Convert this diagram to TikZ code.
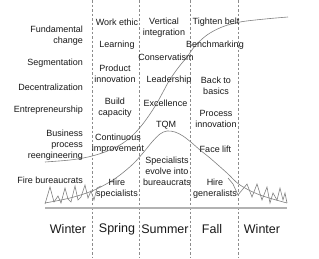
\documentclass[tikz,border=0pt]{standalone}
\usepackage{fontspec}
\setmainfont{Liberation Sans}
\begin{document}
\begin{tikzpicture}[x=1pt,y=-1pt,
  lbl/.style={font=\fontsize{9}{11}\selectfont, inner sep=0pt, align=center, text=black!90},
  lft/.style={lbl, anchor=east, align=right},
  season/.style={font=\fontsize{12.5}{14}\selectfont, inner sep=0pt, text=black!90},
  divider/.style={draw=black!45, line width=0.5pt, dash pattern=on 2.5pt off 2pt},
  curve/.style={draw=black!50, line width=0.6pt},
  base/.style={draw=black!30, line width=1.3pt}]
\useasboundingbox (0,0) rectangle (319,258);
\fill[white] (0,0) rectangle (319,258);
% dividers
\foreach \xx/\nm in {92/d1,139.5/d2,190.5/d3,238.5/d4}{
  \coordinate (\nm t) at (\xx,0);
  \coordinate (\nm b) at (\xx,258);
  \draw[divider] (\nm t) -- (\nm b);
}
% baseline
\coordinate (bl) at (45,208);
\coordinate (br) at (287,208);
\draw[base] (bl) -- (br);
% S-curve
\draw[curve] plot[smooth, tension=0.55] coordinates {(45,162) (70,160) (88,157) (105,152) (120,145) (132,136) (142,125) (150,114) (157,103) (163,92) (169,81) (178,68) (187,57) (195,46) (207,35) (222,27) (240,22) (265,19) (288,17)};
% bell curve
\draw[curve] plot[smooth, tension=0.55] coordinates {(45,203) (70,198) (92,191) (108,183) (120,175) (133,164) (143,153) (152,142) (160,134) (167,131) (175,132) (183,136) (192,143) (200,150) (210,158) (227,173) (240,185) (260,195) (287,203)};
% zigzags
\draw[curve, line join=miter] (45,204) -- (50,187) -- (54,202) -- (58,196) -- (61,203) -- (65,188) -- (68,199) -- (71,202) -- (75,186) -- (78,200) -- (81,197) -- (85,185) -- (88,198) -- (91,191) -- (94,200) -- (97,188) -- (101,186);
\draw[curve, line join=miter] (228,178) -- (233,184) -- (238,195) -- (247,184) -- (252,197) -- (257,184) -- (262,200) -- (267,187) -- (270,203) -- (273,193) -- (277,200) -- (280,188) -- (283,200) -- (285,193) -- (287,203);
% left column
\node[lft] (fund) at (83,35.5) {Fundamental\\change};
\node[lft] (seg) at (83,63) {Segmentation};
\node[lft] (dec) at (83,87) {Decentralization};
\node[lft] (ent) at (83,110) {Entrepreneurship};
\node[lft] (bpr) at (83,145) {Business\\process\\reengineering};
\node[lft] (fire) at (83,180) {Fire bureaucrats};
% spring
\node[lbl] (work) at (117,22) {Work ethic};
\node[lbl] (learn) at (117,45) {Learning};
\node[lbl] (prod) at (115,74) {Product\\innovation};
\node[lbl] (build) at (115,108) {Build\\capacity};
\node[lbl] (cont) at (118,144) {Continuous\\improvement};
\node[lbl] (hires) at (117,188.5) {Hire\\specialists};
% summer
\node[lbl] (vert) at (164,27.5) {Vertical\\integration};
\node[lbl] (cons) at (166,57) {Conservatism};
\node[lbl] (lead) at (169,80) {Leadership};
\node[lbl] (exc) at (165.5,103) {Excellence};
\node[lbl] (tqm) at (166,125) {TQM};
\node[lbl] (spec) at (167,171.5) {Specialists\\evolve into\\bureaucrats};
% fall
\node[lbl] (tight) at (216,22) {Tighten belt};
\node[lbl] (bench) at (215,45) {Benchmarking};
\node[lbl] (back) at (216,85.5) {Back to\\basics};
\node[lbl] (proc) at (216,119) {Process\\innovation};
\node[lbl] (face) at (215.5,149) {Face lift};
\node[lbl] (hireg) at (215,188.5) {Hire\\generalists};
% seasons
\node[season] (w1) at (68,229) {Winter};
\node[season] (sp) at (117,229) {Spring};
\node[season] (su) at (165,229) {Summer};
\node[season] (fa) at (212,229) {Fall};
\node[season] (w2) at (262,229) {Winter};
\end{tikzpicture}
\end{document}
